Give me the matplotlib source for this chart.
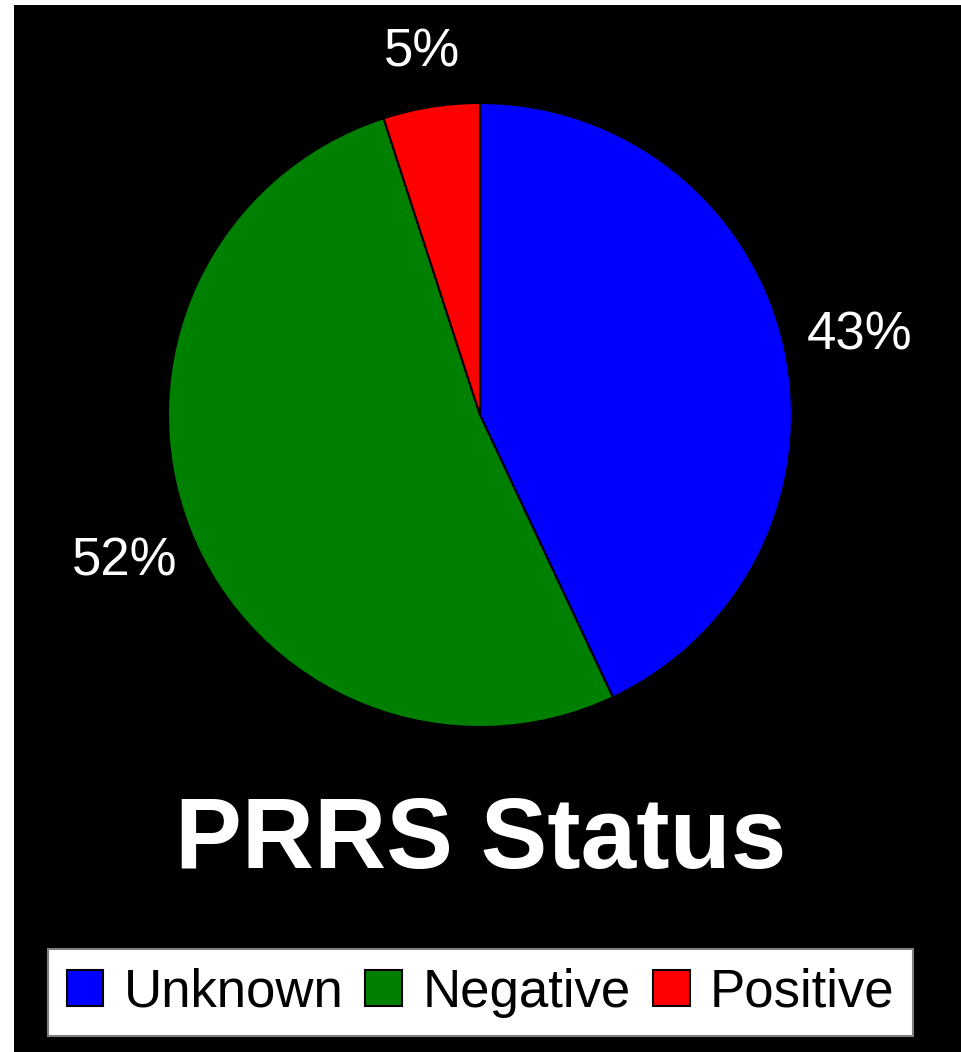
import matplotlib
matplotlib.use("Agg")
import numpy as np
import matplotlib.pyplot as plt
from matplotlib.patches import Rectangle

labels = ["Unknown", "Negative", "Positive"]
values = [43, 52, 5]
colors = ["#0000FF", "#008000", "#FF0000"]
title = "PRRS Status"
label_dist = [1.245, 1.225, 1.195]  # outside-end label offsets

W, H = 961, 1052
fig = plt.figure(figsize=(W / 100, H / 100), dpi=100, facecolor="white")
plt.rcParams["font.family"] = ["Liberation Sans", "DejaVu Sans"]

# black panel (thin white strip on left and top)
fig.patches.append(Rectangle((14 / W, 0), 1 - 14 / W, 1 - 5 / H,
                             transform=fig.transFigure, facecolor="black",
                             edgecolor="none", zorder=-5))

# pie axes: centre (480, 415), radius 312 px
r = 312
ax = fig.add_axes([(480 - r) / W, 1 - (415 + r) / H, 2 * r / W, 2 * r / H])
ax.set_zorder(2)
ax.set_facecolor("none")
wedges, texts, autotexts = ax.pie(values, colors=colors, startangle=90, counterclock=False,
                                  autopct="%1.0f%%", pctdistance=1.23, radius=1,
                                  wedgeprops=dict(edgecolor="black", linewidth=1.5))
for w, t, d in zip(wedges, autotexts, label_dist):
    mid = np.deg2rad((w.theta1 + w.theta2) / 2)
    t.set_position((d * np.cos(mid), d * np.sin(mid)))
    t.set_color("white")
    t.set_fontsize(38)
    t.set_va("center_baseline")
ax.set_xlim(-1, 1)
ax.set_ylim(-1, 1)
ax.axis("off")

fig.text(0.5, 1 - 868 / H, title, ha="center", va="baseline", color="white",
         fontsize=72, fontweight="bold", zorder=3,
         family=["Liberation Sans Narrow", "Liberation Sans", "DejaVu Sans"])

leg = fig.legend(wedges, labels, loc="center", bbox_to_anchor=(0.5, 1 - 992.5 / H),
                 ncol=3, fontsize=38, frameon=True, fancybox=False, framealpha=1,
                 handlelength=0.7, handleheight=0.66, handletextpad=0.38,
                 columnspacing=0.42, borderpad=0.35, borderaxespad=0)
leg.set_zorder(3)
leg.get_frame().set_facecolor("white")
leg.get_frame().set_edgecolor("#808080")
leg.get_frame().set_linewidth(1.5)
for h in leg.legend_handles:
    h.set_edgecolor("black")
    h.set_linewidth(1.5)

fig.savefig("out.png", dpi=100, facecolor="white")
